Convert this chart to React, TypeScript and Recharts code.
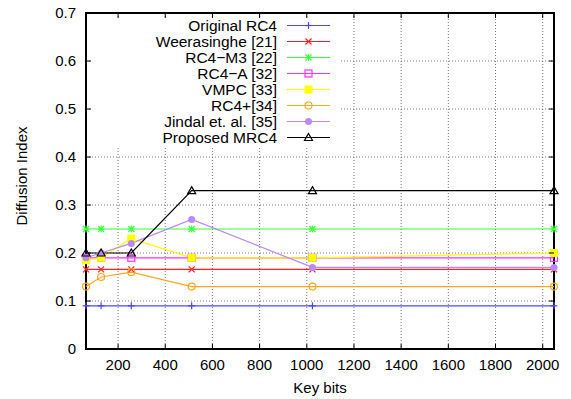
import { LineChart, Line, XAxis, YAxis, CartesianGrid, ReferenceArea, Legend } from "recharts"

const keyBits = [64, 128, 256, 512, 1024, 2048]

const originalRC4 = [0.09, 0.09, 0.09, 0.09, 0.09, 0.09]
const weerasinghe = [0.166, 0.166, 0.166, 0.166, 0.166, 0.166]
const rc4M3 = [0.25, 0.25, 0.25, 0.25, 0.25, 0.25]
const rc4A = [0.19, 0.19, 0.19, 0.19, 0.19, 0.19]
const vmpc = [0.185, 0.19, 0.23, 0.19, 0.19, 0.2]
const rc4Plus = [0.13, 0.15, 0.16, 0.13, 0.13, 0.13]
const jindal = [0.19, 0.2, 0.22, 0.27, 0.17, 0.17]
const proposed = [0.2, 0.2, 0.2, 0.33, 0.33, 0.33]

const xTicks = [200, 400, 600, 800, 1000, 1200, 1400, 1600, 1800, 2000]
const yTicks = [0, 0.1, 0.2, 0.3, 0.4, 0.5, 0.6, 0.7]

const FONT = "'Liberation Sans', Arial, sans-serif"

// plot box in page pixels
const PLOT = { left: 86, right: 554, top: 13, bottom: 349 }

type Shape = "plus" | "cross" | "star" | "square" | "fsquare" | "circle" | "fcircle" | "triangle"

const series: { key: string; name: string; color: string; shape: Shape; values: number[] }[] = [
    { key: "orig", name: "Original RC4", color: "#4848ff", shape: "plus", values: originalRC4 },
    { key: "weer", name: "Weerasinghe [21]", color: "#ff2020", shape: "cross", values: weerasinghe },
    { key: "m3", name: "RC4\u2212M3 [22]", color: "#3cff3c", shape: "star", values: rc4M3 },
    { key: "rc4a", name: "RC4\u2212A [32]", color: "#ff30ff", shape: "square", values: rc4A },
    { key: "vmpc", name: "VMPC [33]", color: "#ffff00", shape: "fsquare", values: vmpc },
    { key: "rc4p", name: "RC4+[34]", color: "#ffa620", shape: "circle", values: rc4Plus },
    { key: "jind", name: "Jindal et. al. [35]", color: "#bb88ff", shape: "fcircle", values: jindal },
    { key: "prop", name: "Proposed MRC4", color: "#000000", shape: "triangle", values: proposed },
]

const data = keyBits.map((k, i) => {
    const row: Record<string, number> = { bits: k }
    series.forEach(s => { row[s.key] = s.values[i] })
    return row
})

function Marker({ cx, cy, shape, color }: { cx: number; cy: number; shape: Shape; color: string }) {
    const r = 3.5
    switch (shape) {
        case "plus":
            return <g stroke={color} strokeWidth={1.2}><line x1={cx - r} x2={cx + r} y1={cy} y2={cy} /><line x1={cx} x2={cx} y1={cy - r} y2={cy + r} /></g>
        case "cross":
            return <g stroke={color} strokeWidth={1.2}><line x1={cx - 3} x2={cx + 3} y1={cy - 3} y2={cy + 3} /><line x1={cx - 3} x2={cx + 3} y1={cy + 3} y2={cy - 3} /></g>
        case "star":
            return <g stroke={color} strokeWidth={1.2}><line x1={cx - r} x2={cx + r} y1={cy} y2={cy} /><line x1={cx} x2={cx} y1={cy - r} y2={cy + r} /><line x1={cx - 3} x2={cx + 3} y1={cy - 3} y2={cy + 3} /><line x1={cx - 3} x2={cx + 3} y1={cy + 3} y2={cy - 3} /></g>
        case "square":
            return <rect x={cx - 3.5} y={cy - 3.5} width={7} height={7} fill="none" stroke={color} strokeWidth={1.2} />
        case "fsquare":
            return <rect x={cx - 4} y={cy - 4} width={8} height={8} fill={color} />
        case "circle":
            return <circle cx={cx} cy={cy} r={3.5} fill="none" stroke={color} strokeWidth={1.2} />
        case "fcircle":
            return <circle cx={cx} cy={cy} r={3.5} fill={color} />
        case "triangle":
            return <path d={`M${cx},${cy - 4}L${cx + 4},${cy + 3}L${cx - 4},${cy + 3}Z`} fill="none" stroke={color} strokeWidth={1.2} />
    }
}

function XTick(props: any) {
    const { x, payload } = props
    return (
        <g>
            <line x1={x} x2={x} y1={PLOT.bottom} y2={PLOT.bottom - 5} stroke="#000" />
            <line x1={x} x2={x} y1={PLOT.top} y2={PLOT.top + 5} stroke="#000" />
            <text x={x} y={370} textAnchor="middle" fontSize={15} fontFamily={FONT} fill="#000">{payload.value}</text>
        </g>
    )
}

function YTick(props: any) {
    const { y, payload } = props
    return (
        <g>
            <line x1={PLOT.left} x2={PLOT.left + 5} y1={y} y2={y} stroke="#000" />
            <line x1={PLOT.right} x2={PLOT.right - 5} y1={y} y2={y} stroke="#000" />
            <text x={76} y={y} dy={5} textAnchor="end" fontSize={15} fontFamily={FONT} fill="#000">{payload.value}</text>
        </g>
    )
}

function KeyBox() {
    return (
        <svg width={248} height={129} style={{ display: "block" }}>
            {series.map((s, i) => {
                const y = 7.5 + i * 16
                return (
                    <g key={s.key}>
                        <text x={185} y={y} dy={5.5} textAnchor="end" fontSize={15.5} fontFamily={FONT} fill="#000">{s.name}</text>
                        <line x1={195} x2={238} y1={y} y2={y} stroke={s.color} strokeWidth={1.2} />
                        <Marker cx={216.5} cy={y} shape={s.shape} color={s.color} />
                    </g>
                )
            })}
        </svg>
    )
}

export default function App() {
    return (
        <div style={{ position: "absolute", left: 0, top: 0, width: 571, height: 399, background: "#fff" }}>
            <LineChart width={571} height={399} data={data} margin={{ top: 13, right: 17, left: 0, bottom: 0 }}>
                <CartesianGrid stroke="#777" strokeDasharray="1 2" />
                <XAxis
                    dataKey="bits"
                    type="number"
                    domain={[64, 2048]}
                    ticks={xTicks}
                    height={50}
                    axisLine={false}
                    tickLine={false}
                    tick={<XTick />}
                    label={{ content: () => <text x={320} y={393} textAnchor="middle" fontSize={15} fontFamily={FONT} fill="#000">Key bits</text> }}
                />
                <YAxis
                    type="number"
                    domain={[0, 0.7]}
                    ticks={yTicks}
                    width={86}
                    axisLine={false}
                    tickLine={false}
                    tick={<YTick />}
                    label={{ content: () => <text x={22} y={176} transform="rotate(-90 22 176)" dy={5} textAnchor="middle" fontSize={15} fontFamily={FONT} fill="#000">Diffusion Index</text> }}
                />
                <ReferenceArea x1={64} x2={2048} y1={0} y2={0.7} fill="none" stroke="#000" strokeWidth={2} />
                <Legend
                    layout="horizontal"
                    align="center"
                    verticalAlign="middle"
                    wrapperStyle={{ left: 92, top: 18, width: 248, height: 129, background: "#fff" }}
                    content={() => <KeyBox />}
                />
                {series.map(s => (
                    <Line
                        key={s.key}
                        dataKey={s.key}
                        name={s.name}
                        stroke={s.color}
                        strokeWidth={1.2}
                        isAnimationActive={false}
                        dot={(p: any) => <Marker key={`${s.key}-${p.index}`} cx={p.cx} cy={p.cy} shape={s.shape} color={s.color} />}
                        activeDot={false}
                    />
                ))}
            </LineChart>
        </div>
    )
}
